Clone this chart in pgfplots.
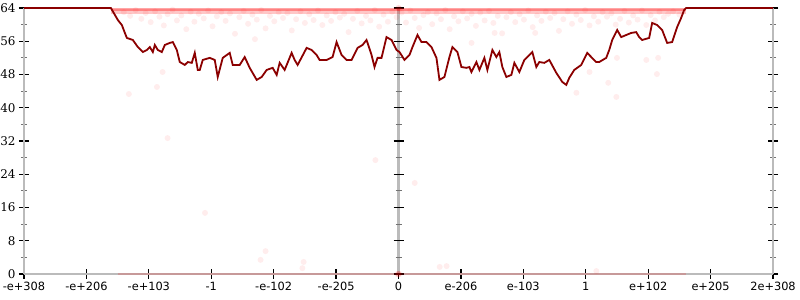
\documentclass[border=0pt]{standalone}
\usepackage{pgfplots}
\pgfplotsset{compat=1.18}
\usepackage{fontspec}
\setmainfont{DejaVu Serif}
\newfontfamily\xsans{DejaVu Sans}
\definecolor{linered}{HTML}{8B0000}
\definecolor{axgray}{HTML}{BBBBBB}
\begin{document}
\begin{tikzpicture}
\begin{axis}[name=ax, scale only axis, width=749bp, height=266bp,
  xmin=-6, xmax=6, ymin=0, ymax=64, clip=false,
  axis x line=bottom, axis y line=box,
  axis line style={draw=axgray, line width=2.2bp, -},
  xtick={-6,...,6},
  xticklabels={-e+308,-e+206,-e+103,-1,-e-102,-e-205,0,e-206,e-103,1,e+102,e+205,2e+308},
  xticklabel style={font=\xsans\fontsize{11.4}{14}\selectfont},
  ytick={0,8,...,64}, minor ytick={4,12,...,60},
  yticklabel style={font=\fontsize{12}{14}\selectfont},
  /pgf/number format/assume math mode=true,
  tick align=center, major tick length=10bp, minor tick length=6bp,
  every tick/.style={black, line width=1.2bp},
  every minor tick/.style={black!55, line width=1bp},
  ytick pos=both,
]
\draw[axgray, line width=2.2bp] (axis cs:0,0) -- (axis cs:0,64);
\pgfplotsinvokeforeach{0,8,16,24,32,40,48,56,64}{
  \draw[black, line width=1.2bp] ([xshift=-5bp]axis cs:0,#1) -- ([xshift=5bp]axis cs:0,#1);}
\pgfplotsinvokeforeach{4,12,20,28,36,44,52,60}{
  \draw[black!55, line width=1bp] ([xshift=-3bp]axis cs:0,#1) -- ([xshift=3bp]axis cs:0,#1);}
% dense bands
\addplot[red, opacity=0.22, line width=5bp, forget plot] coordinates {(-4.6,63.1) (4.6,63.1)};
\addplot[red, opacity=0.35, line width=2.5bp, forget plot] coordinates {(-4.6,63.6) (4.6,63.6)};
\addplot[red, opacity=0.18, line width=2bp, forget plot] coordinates {(-4.5,0) (4.6,0)};
% scatter cloud
\addplot[only marks, mark=*, mark size=3bp, color=red, mark options={draw=none, draw opacity=0, fill=red, fill opacity=0.07}] coordinates {
(-4.40,63.0) (-4.30,62.1) (-4.21,63.5) (-4.12,61.4) (-4.05,62.8) (-3.97,60.6) (-3.90,63.2) (-3.83,61.9) (-3.76,59.8) (-3.70,62.5)
(-3.62,63.6) (-3.55,61.0) (-3.48,62.2) (-3.40,58.9) (-3.33,63.1) (-3.27,60.7) (-3.20,62.6) (-3.12,61.5) (-3.05,63.4) (-2.98,59.6)
(-2.91,62.0) (-2.84,63.0) (-2.77,60.9) (-2.70,62.7) (-2.62,57.8) (-2.55,61.8) (-2.48,63.3) (-2.41,60.2) (-2.34,62.4) (-2.27,61.2)
(-2.20,63.5) (-2.13,59.1) (-2.06,62.1) (-1.99,60.8) (-1.92,63.0) (-1.85,61.6) (-1.78,62.8) (-1.71,58.6) (-1.64,61.3) (-1.57,63.2)
(-1.50,60.4) (-1.43,62.5) (-1.36,61.1) (-1.29,63.4) (-1.22,59.9) (-1.15,62.2) (-1.08,60.9) (-1.01,63.0) (-0.94,61.7) (-0.87,62.6)
(-0.80,58.2) (-0.73,61.4) (-0.66,63.3) (-0.59,60.3) (-0.52,62.1) (-0.45,61.0) (-0.38,63.5) (-0.31,59.5) (-0.24,62.4) (-0.17,60.7)
(-0.10,63.1) (-0.03,61.8)
(0.05,62.9) (0.12,60.5) (0.19,63.4) (0.26,61.6) (0.33,59.2) (0.40,62.3) (0.47,63.0) (0.54,60.1) (0.61,62.7) (0.68,61.3)
(0.75,63.5) (0.82,58.9) (0.89,62.0) (0.96,60.8) (1.03,63.2) (1.10,61.5) (1.17,62.6) (1.24,59.7) (1.31,62.9) (1.38,61.0)
(1.45,63.3) (1.52,60.4) (1.59,62.1) (1.66,57.9) (1.73,61.8) (1.80,63.0) (1.87,60.6) (1.94,62.5) (2.01,61.2) (2.08,63.4)
(2.15,59.4) (2.22,62.2) (2.29,60.9) (2.36,63.1) (2.43,61.6) (2.50,62.8) (2.57,58.5) (2.64,61.3) (2.71,63.2) (2.78,60.2)
(2.85,62.4) (2.92,61.1) (2.99,63.5) (3.06,59.8) (3.13,62.0) (3.20,60.7) (3.27,63.0) (3.34,61.9) (3.41,62.7) (3.48,60.0)
(3.55,61.4) (3.62,63.3) (3.69,60.5) (3.76,62.2) (3.83,61.2) (3.90,63.4) (3.97,59.9) (4.04,62.3) (4.11,61.0) (4.18,63.1)
(4.25,61.8) (4.32,62.6) (4.40,63.2) (4.50,62.4)
(-4.32,43.3) (-3.87,45.0) (-3.78,48.6) (-3.70,32.7) (-0.37,27.4) (0.26,21.9) (-2.13,5.5) (-2.21,3.4) (-1.52,2.9) (-1.54,1.4)
(0.66,1.7) (0.77,1.9) (3.17,0.7) (3.50,52.0) (3.97,51.5) (4.16,52.0) (4.14,48.1) (3.36,46.0) (3.49,42.6) (1.17,55.6)
(1.54,58.0) (2.19,58.0) (2.85,43.6) (3.06,48.6) (-2.30,56.5) (-3.10,14.7)
(0,0) (0,0) (0,0) (0.02,0) (-0.02,0) (0,64) (0,64) (0.02,63.8)
};
% main line
\addplot[linered, line width=1.8bp] coordinates {
(-6,64) (-4.608,64) (-4.496,61.1) (-4.432,59.9) (-4.384,58.0) (-4.352,56.8) (-4.256,56.3) (-4.176,54.6) (-4.096,53.4) (-4.032,53.9)
(-3.984,54.6) (-3.936,53.4) (-3.904,55.1) (-3.856,53.9) (-3.792,53.4) (-3.744,55.1) (-3.664,55.6) (-3.616,55.8) (-3.552,53.9) (-3.504,51.0)
(-3.424,50.3) (-3.376,51.0) (-3.312,50.8) (-3.264,53.2) (-3.216,49.1) (-3.184,49.1) (-3.136,51.5) (-3.024,52.0) (-2.944,51.5) (-2.896,47.4)
(-2.816,52.0) (-2.704,53.2) (-2.656,50.3) (-2.544,50.3) (-2.464,52.2) (-2.384,49.6) (-2.272,46.7) (-2.192,47.4) (-2.112,49.1) (-2.016,49.6)
(-1.952,47.9) (-1.904,50.8) (-1.824,49.1) (-1.712,53.2) (-1.664,51.5) (-1.616,50.3) (-1.472,54.4) (-1.392,53.9) (-1.312,52.7) (-1.264,51.5)
(-1.152,51.5) (-1.056,52.2) (-0.992,55.8) (-0.912,52.7) (-0.832,51.5) (-0.752,51.5) (-0.656,54.4) (-0.576,55.1) (-0.512,56.3) (-0.432,52.7)
(-0.384,49.8) (-0.336,52.0) (-0.272,52.0) (-0.192,57.0) (-0.112,56.3) (-0.032,53.9) (0.016,53.4) (0.096,51.5) (0.176,52.7) (0.224,54.6)
(0.304,57.5) (0.368,55.8) (0.448,55.8) (0.528,54.6) (0.608,52.0) (0.656,46.7) (0.736,47.4) (0.816,52.2) (0.864,54.6) (0.944,53.4)
(1.008,49.8) (1.088,49.6) (1.136,49.8) (1.168,48.6) (1.248,51.0) (1.296,49.1) (1.376,52.0) (1.424,49.1) (1.504,53.9) (1.568,52.2)
(1.616,53.4) (1.664,49.8) (1.728,47.4) (1.808,47.9) (1.856,50.8) (1.936,48.6) (2.016,51.5) (2.064,52.2) (2.144,53.4) (2.208,49.8)
(2.256,51.0) (2.336,50.8) (2.416,51.5) (2.528,48.4) (2.624,46.2) (2.688,45.5) (2.736,47.2) (2.816,49.1) (2.928,50.3) (3.024,53.2)
(3.088,52.2) (3.168,51.0) (3.216,51.0) (3.328,52.0) (3.376,53.9) (3.424,56.3) (3.504,58.7) (3.568,57.0) (3.648,57.5) (3.728,58.0)
(3.808,58.2) (3.856,57.0) (3.904,56.3) (4.016,56.8) (4.064,60.4) (4.144,59.9) (4.224,58.7) (4.304,55.6) (4.384,55.8) (4.464,59.4)
(4.528,61.6) (4.576,63.5) (4.608,64) (6,64)
};
\end{axis}
\pgfresetboundingbox
\path[use as bounding box] ([xshift=-24bp,yshift=-26bp]ax.south west) rectangle ([xshift=27bp,yshift=8bp]ax.north east);
\end{tikzpicture}
\end{document}
